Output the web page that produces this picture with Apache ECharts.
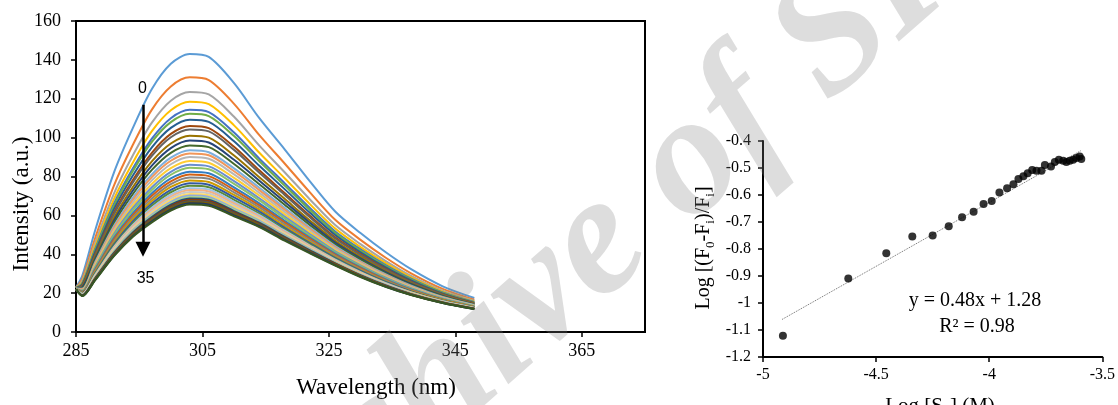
<!DOCTYPE html>
<html>
<head>
<meta charset="utf-8">
<script src="https://cdn.jsdelivr.net/npm/echarts@6/dist/echarts.min.js"></script>
<style>
html,body{margin:0;padding:0;background:#fff;}
#chart{width:1118px;height:405px;}
</style>
</head>
<body>
<div id="chart"></div>
<script>
// ---- Left panel: emission spectra (wavelength, nm) ----
const wavelength = [285, 286, 288, 291, 294, 297, 300, 303, 306, 310, 314, 318, 322, 326, 330, 334, 338, 343, 348];
const c00 = [23, 29, 52, 82, 105, 125, 138, 143, 141.5, 128, 110, 94, 77.5, 62, 50.9, 41, 32.3, 23.5, 17.5];
const c01 = [22.8, 27.4, 48.0, 75.3, 96.3, 114.4, 126.3, 131.0, 129.6, 117.4, 101.3, 86.7, 71.8, 57.7, 47.4, 38.2, 30.2, 22.2, 16.6];
const c02 = [22.7, 26.4, 45.6, 71.2, 90.9, 107.7, 119.0, 123.5, 122.2, 110.7, 95.9, 82.2, 68.2, 55.0, 45.2, 36.5, 28.9, 21.3, 16.1];
const c03 = [22.7, 25.7, 43.9, 68.4, 87.2, 103.3, 114.1, 118.5, 117.2, 106.3, 92.2, 79.1, 65.8, 53.2, 43.7, 35.4, 28.1, 20.8, 15.7];
const c04 = [22.6, 25.1, 42.5, 66.0, 84.2, 99.5, 110.0, 114.3, 113.1, 102.6, 89.2, 76.6, 63.8, 51.7, 42.5, 34.4, 27.4, 20.3, 15.4];
const c05 = [22.6, 24.8, 41.9, 64.9, 82.8, 97.8, 108.0, 112.3, 111.1, 100.8, 87.8, 75.3, 62.8, 51.0, 41.9, 33.9, 27.0, 20.1, 15.2];
const c06 = [22.6, 24.4, 40.9, 63.2, 80.5, 95.0, 105.0, 109.2, 108.1, 98.1, 85.5, 73.5, 61.3, 49.9, 41.0, 33.2, 26.5, 19.7, 15.0];
const c07 = [22.5, 24.0, 39.8, 61.4, 78.2, 92.2, 101.9, 106.0, 104.9, 95.3, 83.2, 71.5, 59.8, 48.7, 40.1, 32.5, 25.9, 19.4, 14.8];
const c08 = [22.5, 23.7, 39.2, 60.5, 76.9, 90.6, 100.2, 104.2, 103.2, 93.7, 81.9, 70.5, 59.0, 48.1, 39.6, 32.1, 25.6, 19.2, 14.6];
const c09 = [22.5, 23.3, 38.2, 58.7, 74.6, 87.8, 97.0, 101.0, 100.0, 90.8, 79.6, 68.5, 57.4, 46.9, 38.6, 31.3, 25.1, 18.8, 14.4];
const c10 = [22.4, 23.0, 37.3, 57.3, 72.8, 85.6, 94.6, 98.5, 97.5, 88.6, 77.8, 67.0, 56.2, 46.0, 37.9, 30.8, 24.7, 18.6, 14.2];
const c11 = [22.4, 22.6, 36.5, 55.9, 71.0, 83.4, 92.2, 96.0, 95.1, 86.4, 76.0, 65.5, 55.0, 45.1, 37.2, 30.2, 24.2, 18.3, 14.0];
const c12 = [22.4, 22.3, 35.7, 54.5, 69.2, 81.1, 89.7, 93.5, 92.5, 84.2, 74.2, 63.9, 53.8, 44.2, 36.4, 29.6, 23.8, 18.0, 13.9];
const c13 = [22.3, 22.1, 35.1, 53.6, 68.0, 79.7, 88.1, 91.8, 90.9, 82.7, 73.0, 62.9, 53.0, 43.6, 36.0, 29.2, 23.5, 17.8, 13.7];
const c14 = [22.3, 21.8, 34.5, 52.5, 66.6, 78.0, 86.3, 90.0, 89.1, 81.1, 71.6, 61.8, 52.2, 43.0, 35.4, 28.8, 23.2, 17.6, 13.6];
const c15 = [22.3, 21.5, 33.9, 51.4, 65.2, 76.2, 84.3, 88.0, 87.1, 79.3, 70.2, 60.6, 51.2, 42.2, 34.8, 28.3, 22.8, 17.4, 13.4];
const c16 = [22.3, 21.3, 33.2, 50.4, 63.8, 74.5, 82.4, 86.0, 85.2, 77.6, 68.8, 59.4, 50.3, 41.5, 34.3, 27.9, 22.5, 17.2, 13.3];
const c17 = [22.2, 21.1, 32.7, 49.5, 62.7, 73.1, 80.9, 84.5, 83.7, 76.2, 67.7, 58.5, 49.5, 41.0, 33.8, 27.5, 22.2, 17.0, 13.2];
const c18 = [22.2, 20.8, 32.1, 48.4, 61.2, 71.4, 79.0, 82.5, 81.7, 74.4, 66.2, 57.2, 48.6, 40.3, 33.2, 27.1, 21.9, 16.8, 13.0];
const c19 = [22.2, 20.6, 31.6, 47.6, 60.1, 70.1, 77.5, 81.0, 80.2, 73.1, 65.1, 56.4, 47.9, 39.7, 32.8, 26.7, 21.6, 16.6, 12.9];
const c20 = [22.2, 20.4, 31.1, 46.7, 59.1, 68.7, 76.1, 79.5, 78.8, 71.8, 64.1, 55.5, 47.2, 39.2, 32.4, 26.4, 21.4, 16.4, 12.8];
const c21 = [22.2, 20.2, 30.6, 45.9, 58.0, 67.4, 74.6, 78.0, 77.2, 70.5, 63.0, 54.5, 46.4, 38.6, 31.9, 26.0, 21.1, 16.3, 12.7];
const c22 = [22.1, 20.0, 30.1, 45.1, 56.9, 66.1, 73.1, 76.5, 75.8, 69.2, 61.9, 53.6, 45.7, 38.1, 31.5, 25.7, 20.9, 16.1, 12.6];
const c23 = [22.1, 19.8, 29.7, 44.3, 55.9, 64.9, 71.9, 75.2, 74.5, 68.0, 60.9, 52.8, 45.1, 37.6, 31.1, 25.4, 20.6, 16.0, 12.5];
const c24 = [22.1, 19.6, 29.3, 43.7, 55.1, 63.9, 70.7, 74.0, 73.3, 67.0, 60.1, 52.1, 44.5, 37.2, 30.8, 25.1, 20.4, 15.8, 12.4];
const c25 = [22.1, 19.5, 28.9, 43.1, 54.4, 63.0, 69.7, 73.0, 72.3, 66.1, 59.4, 51.5, 44.1, 36.9, 30.5, 24.9, 20.3, 15.7, 12.3];
const c26 = [22.1, 19.4, 28.6, 42.6, 53.6, 62.1, 68.8, 72.0, 71.3, 65.2, 58.6, 50.9, 43.6, 36.5, 30.2, 24.7, 20.1, 15.6, 12.3];
const c27 = [22.1, 19.2, 28.3, 42.0, 52.9, 61.2, 67.8, 71.0, 70.4, 64.3, 57.9, 50.3, 43.1, 36.1, 29.9, 24.4, 19.9, 15.5, 12.2];
const c28 = [22.1, 19.1, 28.0, 41.5, 52.3, 60.4, 67.0, 70.2, 69.5, 63.5, 57.3, 49.8, 42.7, 35.8, 29.6, 24.3, 19.8, 15.4, 12.1];
const c29 = [22.0, 19.0, 27.7, 41.1, 51.7, 59.8, 66.2, 69.4, 68.7, 62.9, 56.7, 49.3, 42.3, 35.6, 29.4, 24.1, 19.7, 15.3, 12.1];
const c30 = [22.0, 18.9, 27.5, 40.7, 51.2, 59.1, 65.5, 68.7, 68.1, 62.2, 56.2, 48.9, 42.0, 35.3, 29.2, 23.9, 19.5, 15.2, 12.0];
const c31 = [22.0, 18.8, 27.3, 40.3, 50.7, 58.5, 64.8, 68.0, 67.4, 61.6, 55.7, 48.5, 41.6, 35.1, 29.0, 23.8, 19.4, 15.2, 12.0];
const c32 = [22.0, 18.7, 27.1, 40.0, 50.3, 58.0, 64.2, 67.4, 66.8, 61.1, 55.3, 48.1, 41.4, 34.8, 28.8, 23.6, 19.3, 15.1, 11.9];
const c33 = [22.0, 18.7, 26.9, 39.7, 49.9, 57.5, 63.7, 66.8, 66.2, 60.6, 54.9, 47.8, 41.1, 34.6, 28.7, 23.5, 19.2, 15.0, 11.9];
const c34 = [22.0, 18.6, 26.7, 39.3, 49.4, 57.0, 63.1, 66.2, 65.6, 60.0, 54.4, 47.4, 40.8, 34.4, 28.5, 23.3, 19.1, 14.9, 11.8];
const c35 = [22.0, 18.5, 26.5, 39.0, 49.0, 56.4, 62.5, 65.6, 65.0, 59.5, 54.0, 47.0, 40.5, 34.2, 28.3, 23.2, 19.0, 14.9, 11.8];

// arrow annotation (0 -> 35)
const arrowWl = [295.6, 295.6];
const arrowVal = [116.9, 42.6];
const arrowLabels = ['0', '35'];
const arrowLabelWl = [295.5, 296.0];
const arrowLabelVal = [125.1, 27.7];

// ---- Right panel: log plot ----
const logS = [-4.912, -4.623, -4.455, -4.340, -4.250, -4.179, -4.120, -4.069, -4.025, -3.989, -3.955, -3.921, -3.893, -3.871, -3.849, -3.830, -3.810, -3.791, -3.769, -3.754, -3.727, -3.710, -3.692, -3.673, -3.659, -3.644, -3.629, -3.615, -3.600, -3.593];
const logF = [-1.121, -0.909, -0.816, -0.754, -0.750, -0.716, -0.682, -0.662, -0.633, -0.622, -0.591, -0.575, -0.560, -0.541, -0.531, -0.519, -0.507, -0.510, -0.510, -0.489, -0.494, -0.478, -0.469, -0.473, -0.478, -0.473, -0.469, -0.463, -0.457, -0.467];
const trendX = [-4.916, -3.593];
const trendY = [-1.061, -0.435];

// ---- styles ----
const curves = [c00,c01,c02,c03,c04,c05,c06,c07,c08,c09,c10,c11,c12,c13,c14,c15,c16,c17,c18,c19,c20,c21,c22,c23,c24,c25,c26,c27,c28,c29,c30,c31,c32,c33,c34,c35];
const palette = ['#5B9BD5','#ED7D31','#A5A5A5','#FFC000','#4472C4','#70AD47',
  '#255E91','#9E480E','#636363','#997300','#264478','#43682B',
  '#7CAFDD','#F1975A','#B7B7B7','#FFCD33','#698ED0','#8CC168',
  '#327DC2','#D26012','#848484','#CC9A00','#335AA1','#5A8A39',
  '#9DC3E6','#F4B183','#C9C9C9','#FFD966','#8FAADC','#A9D18E',
  '#1F4E79','#843C0C','#525252','#7F6000','#203864','#385723'];

const SERIF = '"Liberation Serif", "Times New Roman", serif';
const SANS = '"Liberation Sans", Arial, sans-serif';

const chart = echarts.init(document.getElementById('chart'), null, {renderer: 'canvas'});

const series = curves.map((c, i) => ({
  type: 'line',
  xAxisIndex: 0, yAxisIndex: 0,
  data: wavelength.map((w, j) => [w, c[j]]),
  showSymbol: false,
  smooth: 0.3,
  silent: true,
  lineStyle: {width: 2, color: palette[i]},
  itemStyle: {color: palette[i]},
  z: 2
}));

series.push({
  type: 'line', xAxisIndex: 0, yAxisIndex: 0, data: [], silent: true, z: 5,
  markLine: {
    silent: true, animation: false,
    symbol: ['none', 'triangle'], symbolSize: 15,
    lineStyle: {color: '#000', width: 2.5, type: 'solid'},
    label: {show: false},
    data: [[{coord: [arrowWl[0], arrowVal[0]]}, {coord: [arrowWl[1], arrowVal[1]]}]]
  },
  markPoint: {
    silent: true, animation: false,
    symbol: 'circle', symbolSize: 0,
    label: {show: true, position: 'inside', formatter: '{b}', color: '#000', fontFamily: SANS, fontSize: 16},
    data: arrowLabels.map((t, k) => ({name: t, coord: [arrowLabelWl[k], arrowLabelVal[k]]}))
  }
});

series.push({
  type: 'line', xAxisIndex: 1, yAxisIndex: 1,
  data: trendX.map((x, i) => [x, trendY[i]]),
  showSymbol: false, silent: true,
  lineStyle: {color: '#6e6e6e', width: 1, type: 'dotted'},
  z: 3
});
series.push({
  type: 'scatter', xAxisIndex: 1, yAxisIndex: 1,
  data: logS.map((x, i) => [x, logF[i]]),
  symbol: 'circle', symbolSize: 8, silent: true,
  itemStyle: {color: '#000'},
  z: 4
});

const axisLineStyle = {show: true, onZero: false, lineStyle: {color: '#000', width: 2}};
const tickStyle = {show: true, length: 5, lineStyle: {color: '#000', width: 1.5}};

const option = {
  animation: false,
  backgroundColor: '#fff',
  grid: [
    {left: 76, top: 21, width: 569, height: 311, show: true, borderColor: '#000', borderWidth: 2, backgroundColor: 'transparent'},
    {left: 763, top: 141, width: 341, height: 216}
  ],
  xAxis: [
    {type: 'value', gridIndex: 0, min: 285, max: 375, interval: 20,
     axisLine: axisLineStyle, axisTick: tickStyle, splitLine: {show: false},
     axisLabel: {color: '#000', fontFamily: SERIF, fontSize: 18, margin: 10, showMaxLabel: false}},
    {type: 'value', gridIndex: 1, min: -5, max: -3.5, interval: 0.5,
     axisLine: axisLineStyle, axisTick: tickStyle, splitLine: {show: false},
     axisLabel: {color: '#000', fontFamily: SERIF, fontSize: 16, margin: 10}}
  ],
  yAxis: [
    {type: 'value', gridIndex: 0, min: 0, max: 160, interval: 20,
     axisLine: axisLineStyle, axisTick: tickStyle, splitLine: {show: false},
     axisLabel: {color: '#000', fontFamily: SERIF, fontSize: 18, margin: 15}},
    {type: 'value', gridIndex: 1, min: -1.2, max: -0.4, interval: 0.1,
     axisLine: axisLineStyle, axisTick: tickStyle, splitLine: {show: false},
     axisLabel: {color: '#000', fontFamily: SERIF, fontSize: 16, margin: 12}}
  ],
  series: series,
  graphic: [
    {type: 'text', x: 22, y: 204, rotation: Math.PI / 2, silent: true,
     style: {text: 'Intensity (a.u.)', fontFamily: SERIF, fontSize: 23, fill: '#000', align: 'center', verticalAlign: 'middle', textAlign: 'center', textVerticalAlign: 'middle'}},
    {type: 'text', x: 376, y: 388, silent: true,
     style: {text: 'Wavelength (nm)', fontFamily: SERIF, fontSize: 23, fill: '#000', align: 'center', verticalAlign: 'middle', textAlign: 'center', textVerticalAlign: 'middle'}},
    {type: 'text', x: 704, y: 248, rotation: Math.PI / 2, silent: true,
     style: {text: '{n|Log [(F}{s|0}{n|-F}{s|i}{n|)/F}{s|i}{n|]}', fill: '#000', align: 'center', verticalAlign: 'middle', textAlign: 'center', textVerticalAlign: 'middle',
       rich: {n: {fontFamily: SERIF, fontSize: 20, lineHeight: 26, verticalAlign: 'middle', fill: '#000', color: '#000'},
              s: {fontFamily: SERIF, fontSize: 13, lineHeight: 26, verticalAlign: 'bottom', fill: '#000', color: '#000'}}}},
    {type: 'text', x: 940, y: 406, silent: true,
     style: {text: '{n|Log [S}{s|6}{n|] (M)}', fill: '#000', align: 'center', verticalAlign: 'middle', textAlign: 'center', textVerticalAlign: 'middle',
       rich: {n: {fontFamily: SERIF, fontSize: 21, lineHeight: 26, verticalAlign: 'middle', fill: '#000', color: '#000'},
              s: {fontFamily: SERIF, fontSize: 14, lineHeight: 26, verticalAlign: 'bottom', fill: '#000', color: '#000'}}}},
    {type: 'text', x: 975, y: 301, silent: true,
     style: {text: 'y = 0.48x + 1.28', fontFamily: SERIF, fontSize: 20, fill: '#000', align: 'center', verticalAlign: 'middle', textAlign: 'center', textVerticalAlign: 'middle'}},
    {type: 'text', x: 977, y: 327, silent: true,
     style: {text: 'R² = 0.98', fontFamily: SERIF, fontSize: 20, fill: '#000', align: 'center', verticalAlign: 'middle', textAlign: 'center', textVerticalAlign: 'middle'}},
    {type: 'text', x: 612, y: 234, rotation: 0.72, silent: true, z: 100,
     style: {text: 'Archive of SID', fontFamily: SERIF, fontSize: 172, fontStyle: 'italic', fontWeight: 'bold', fill: 'rgba(128,128,128,0.27)', align: 'center', verticalAlign: 'middle', textAlign: 'center', textVerticalAlign: 'middle'}}
  ]
};
chart.setOption(option);
</script>
</body>
</html>
